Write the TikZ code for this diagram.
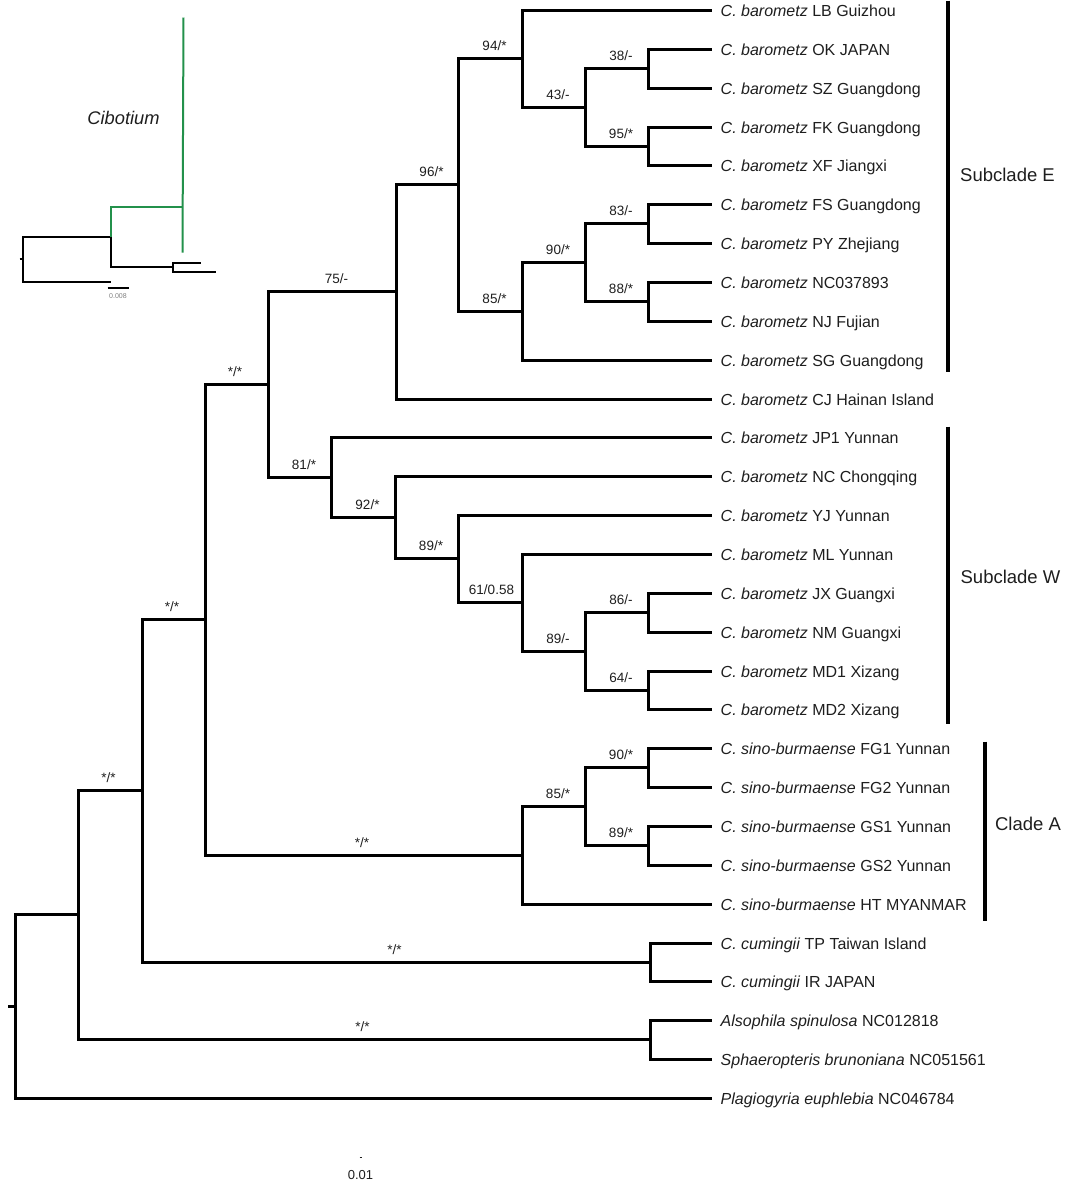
\documentclass[tikz,border=0pt]{standalone}
\usepackage{fontspec}
\setmainfont{Liberation Sans}
\definecolor{cibgreen}{RGB}{35,145,75}
\definecolor{txtgray}{RGB}{30,30,30}
\tikzset{
  branch/.style={line width=3pt, line join=miter},
  tiplabel/.style={anchor=base west, inner sep=0pt, text=txtgray, font=\fontsize{16}{19}\selectfont},
  support/.style={anchor=base, inner sep=0pt, text=txtgray, font=\fontsize{13.5}{16}\selectfont},
  cladebar/.style={line width=4pt},
  cladelabel/.style={inner sep=0pt, text=txtgray, font=\fontsize{18.5}{22}\selectfont},
  insetline/.style={line width=2pt, line join=miter},
  insetgreen/.style={line width=2pt, draw=cibgreen, line join=miter},
}
\newcommand\tipleaf[4]{%
  \coordinate (#1) at (711,{#2});
  \node[tiplabel] (#1lab) at (720,{#2+6}) {\textit{#3} #4};}
\begin{document}
\begin{tikzpicture}[x=1pt,y=-1pt]
\useasboundingbox (-0.5,-0.5) rectangle (1079.5,1183.5);
% ---------------- tips
\tipleaf{LB}{10}{C. barometz}{LB Guizhou}
\tipleaf{OK}{49}{C. barometz}{OK JAPAN}
\tipleaf{SZ}{88}{C. barometz}{SZ Guangdong}
\tipleaf{FK}{127}{C. barometz}{FK Guangdong}
\tipleaf{XF}{165}{C. barometz}{XF Jiangxi}
\tipleaf{FS}{204}{C. barometz}{FS Guangdong}
\tipleaf{PY}{243}{C. barometz}{PY Zhejiang}
\tipleaf{NCa}{282}{C. barometz}{NC037893}
\tipleaf{NJ}{321}{C. barometz}{NJ Fujian}
\tipleaf{SG}{360}{C. barometz}{SG Guangdong}
\tipleaf{CJ}{399}{C. barometz}{CJ Hainan Island}
\tipleaf{JP}{437}{C. barometz}{JP1 Yunnan}
\tipleaf{NCb}{476}{C. barometz}{NC Chongqing}
\tipleaf{YJ}{515}{C. barometz}{YJ Yunnan}
\tipleaf{ML}{554}{C. barometz}{ML Yunnan}
\tipleaf{JX}{593}{C. barometz}{JX Guangxi}
\tipleaf{NM}{632}{C. barometz}{NM Guangxi}
\tipleaf{MDa}{671}{C. barometz}{MD1 Xizang}
\tipleaf{MDb}{709}{C. barometz}{MD2 Xizang}
\tipleaf{FGa}{748}{C. sino-burmaense}{FG1 Yunnan}
\tipleaf{FGb}{787}{C. sino-burmaense}{FG2 Yunnan}
\tipleaf{GSa}{826}{C. sino-burmaense}{GS1 Yunnan}
\tipleaf{GSb}{865}{C. sino-burmaense}{GS2 Yunnan}
\tipleaf{HT}{904}{C. sino-burmaense}{HT MYANMAR}
\tipleaf{TP}{943}{C. cumingii}{TP Taiwan Island}
\tipleaf{IR}{981}{C. cumingii}{IR JAPAN}
\tipleaf{AS}{1020}{Alsophila spinulosa}{NC012818}
\tipleaf{SB}{1059}{Sphaeropteris brunoniana}{NC051561}
\tipleaf{PE}{1098}{Plagiogyria euphlebia}{NC046784}
% ---------------- internal nodes
\coordinate (n1) at (648,68);
\coordinate (n2) at (648,146);
\coordinate (E4) at (585,107);
\coordinate (E2) at (522,58);
\coordinate (n3) at (648,223);
\coordinate (n4) at (648,301);
\coordinate (E5) at (585,262);
\coordinate (E3) at (522,311);
\coordinate (E1) at (458,184);
\coordinate (E)  at (396,291);
\coordinate (n5) at (648,612);
\coordinate (n6) at (648,690);
\coordinate (W4) at (585,651);
\coordinate (W3) at (522,602);
\coordinate (W2) at (458,558);
\coordinate (W1) at (395,517);
\coordinate (W)  at (331,477);
\coordinate (D)  at (268,384);
\coordinate (n7) at (648,767);
\coordinate (n8) at (648,845);
\coordinate (S1) at (585,806);
\coordinate (S)  at (522,855);
\coordinate (C)  at (205,619);
\coordinate (cum) at (650,962);
\coordinate (B)  at (142,790);
\coordinate (als) at (650,1039);
\coordinate (A)  at (78,914);
\coordinate (R)  at (15,1006);
\coordinate (Rstub) at (8,1006);
% ---------------- branches
\draw[branch] (n1) |- (OK); \draw[branch] (n1) |- (SZ);
\draw[branch] (n2) |- (FK); \draw[branch] (n2) |- (XF);
\draw[branch] (E4) |- (n1); \draw[branch] (E4) |- (n2);
\draw[branch] (E2) |- (LB); \draw[branch] (E2) |- (E4);
\draw[branch] (n3) |- (FS); \draw[branch] (n3) |- (PY);
\draw[branch] (n4) |- (NCa); \draw[branch] (n4) |- (NJ);
\draw[branch] (E5) |- (n3); \draw[branch] (E5) |- (n4);
\draw[branch] (E3) |- (E5); \draw[branch] (E3) |- (SG);
\draw[branch] (E1) |- (E2); \draw[branch] (E1) |- (E3);
\draw[branch] (E) |- (E1); \draw[branch] (E) |- (CJ);
\draw[branch] (n5) |- (JX); \draw[branch] (n5) |- (NM);
\draw[branch] (n6) |- (MDa); \draw[branch] (n6) |- (MDb);
\draw[branch] (W4) |- (n5); \draw[branch] (W4) |- (n6);
\draw[branch] (W3) |- (ML); \draw[branch] (W3) |- (W4);
\draw[branch] (W2) |- (YJ); \draw[branch] (W2) |- (W3);
\draw[branch] (W1) |- (NCb); \draw[branch] (W1) |- (W2);
\draw[branch] (W) |- (JP); \draw[branch] (W) |- (W1);
\draw[branch] (D) |- (E); \draw[branch] (D) |- (W);
\draw[branch] (n7) |- (FGa); \draw[branch] (n7) |- (FGb);
\draw[branch] (n8) |- (GSa); \draw[branch] (n8) |- (GSb);
\draw[branch] (S1) |- (n7); \draw[branch] (S1) |- (n8);
\draw[branch] (S) |- (S1); \draw[branch] (S) |- (HT);
\draw[branch] (C) |- (D); \draw[branch] (C) |- (S);
\draw[branch] (cum) |- (TP); \draw[branch] (cum) |- (IR);
\draw[branch] (B) |- (C); \draw[branch] (B) |- (cum);
\draw[branch] (als) |- (AS); \draw[branch] (als) |- (SB);
\draw[branch] (A) |- (B); \draw[branch] (A) |- (als);
\draw[branch] (R) |- (A); \draw[branch] (R) |- (PE);
\draw[branch] (Rstub) -- (R);
% ---------------- support values
\node[support] (s1)  at (494,50)   {94/*};
\node[support] (s2)  at (557.5,99) {43/-};
\node[support] (s3)  at (620.5,60) {38/-};
\node[support] (s4)  at (620.5,138) {95/*};
\node[support] (s5)  at (431,176)  {96/*};
\node[support] (s6)  at (620.5,215) {83/-};
\node[support] (s7)  at (557.5,254) {90/*};
\node[support] (s8)  at (620.5,293) {88/*};
\node[support] (s9)  at (494,303)  {85/*};
\node[support] (s10) at (336,283)  {75/-};
\node[support] (s11) at (234.5,376) {*/*};
\node[support] (s12) at (303.5,469) {81/*};
\node[support] (s13) at (367,509)  {92/*};
\node[support] (s14) at (430.5,550) {89/*};
\node[support] (s15) at (491,594)  {61/0.58};
\node[support] (s16) at (557.5,643) {89/-};
\node[support] (s17) at (620.5,604) {86/-};
\node[support] (s18) at (620.5,682) {64/-};
\node[support] (s19) at (171.5,611) {*/*};
\node[support] (s20) at (108,782)   {*/*};
\node[support] (s21) at (557.5,798) {85/*};
\node[support] (s22) at (620.5,759) {90/*};
\node[support] (s23) at (620.5,837) {89/*};
\node[support] (s24) at (361.5,847) {*/*};
\node[support] (s25) at (394,954)   {*/*};
\node[support] (s26) at (362,1031) {*/*};
% ---------------- clade bars
\coordinate (barEt) at (947,0);   \coordinate (barEb) at (947,371);
\coordinate (barWt) at (947,426); \coordinate (barWb) at (947,723);
\coordinate (barAt) at (984,741); \coordinate (barAb) at (984,920);
\draw[cladebar] (barEt) -- (barEb);
\draw[cladebar] (barWt) -- (barWb);
\draw[cladebar] (barAt) -- (barAb);
\node[cladelabel] (labE) at (1007,174.5) {Subclade E};
\node[cladelabel] (labW) at (1010,576) {Subclade W};
\node[cladelabel] (labA) at (1027.5,823) {Clade A};
% ---------------- scale bar (main)
\coordinate (sbl) at (359,1157); \coordinate (sbr) at (361,1157);
\draw[line width=1.4pt, txtgray] (sbl) -- (sbr);
\node[inner sep=0pt, text=txtgray, font=\fontsize{13}{15}\selectfont] (sblab) at (360,1175) {0.01};
% ---------------- inset tree
\coordinate (ir)  at (22,258);
\coordinate (irs) at (19,258);
\coordinate (ia)  at (110,236);
\coordinate (ib)  at (172,266);
\coordinate (it1) at (110,281);
\coordinate (it2) at (200,262);
\coordinate (it3) at (215,271);
\coordinate (ig)  at (182,206);
\coordinate (igt) at (183,17);
\coordinate (igb) at (182,252);
\draw[insetline] (ir) |- (ia);
\draw[insetline] (ir) |- (it1);
\draw[insetline] (irs) -- (ir);
\draw[insetline] (ia) |- (ib);
\draw[insetline] (ib) |- (it2);
\draw[insetline] (ib) |- (it3);
\draw[insetgreen] (ia) |- (ig);
\draw[insetgreen] (igt) -- (igb);
\node[inner sep=0pt, text=txtgray, font=\itshape\fontsize{18.3}{22}\selectfont] (cib) at (123,117) {Cibotium};
\coordinate (isl) at (107,287); \coordinate (isr) at (128,287);
\draw[insetline] (isl) -- (isr);
\node[inner sep=0pt, text=gray, font=\fontsize{7}{8}\selectfont] (islab) at (117.5,296) {0.008};
\end{tikzpicture}
\end{document}
